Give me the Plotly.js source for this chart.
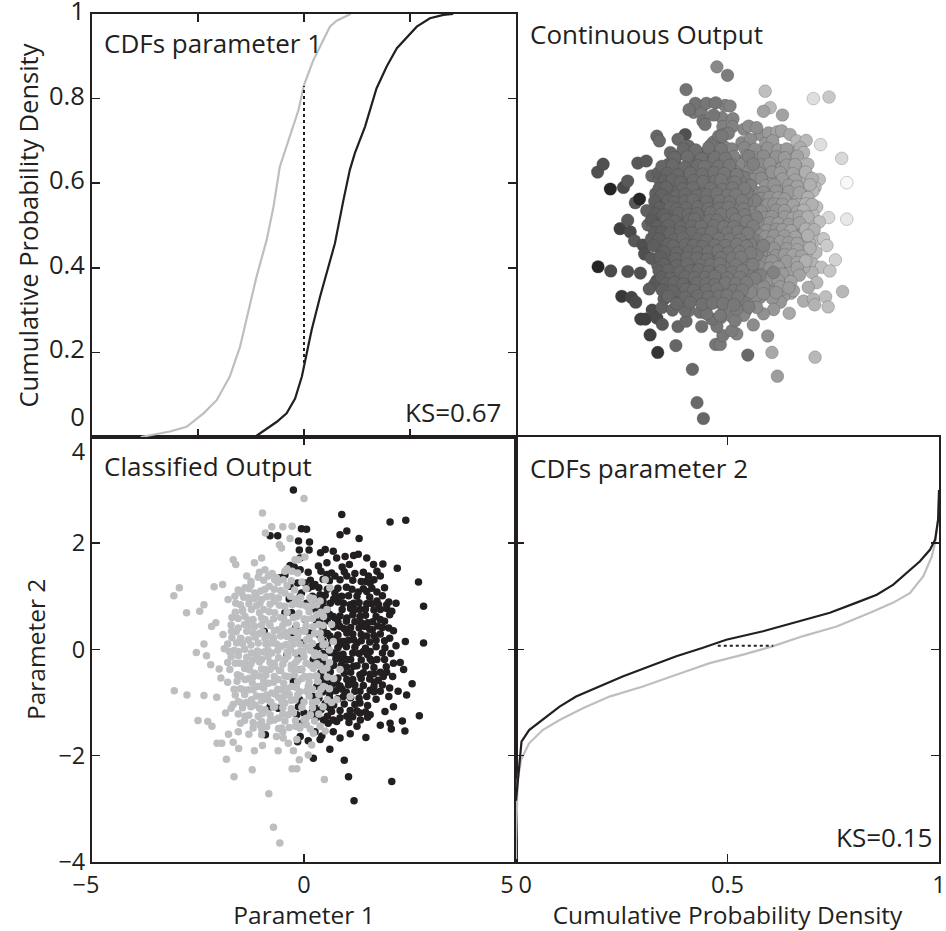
<!DOCTYPE html>
<html>
<head>
<meta charset="utf-8">
<script src="https://cdn.plot.ly/plotly-3.0.1.min.js"></script>
<style>html,body{margin:0;padding:0;background:#fff;}#chart{width:946px;height:931px;}</style>
</head>
<body>
<div id="chart"></div>
<script>
// ---------- DATA ----------
// Class 0 (grey) samples, outer / readable points: parameter 1, parameter 2, continuous output
const grayP1 = [-3.07,-2.94,-2.77,-2.46,-2.36,-2.54,-2.36,-2.30,-2.20,-2.18,
 -2.08,-2.12,-1.92,-2.00,-1.96,-1.88,-1.76,-1.71,-1.79,-1.61,
 -1.67,-1.61,-1.55,-3.06,-2.76,-2.36,-2.06,-2.50,-2.27,-2.17,
 -2.05,-1.94,-1.78,-1.67,-1.54,-1.83,-1.65,-1.22,-1.17,-0.98,
 -0.83,-0.72,-0.57,-0.28,-0.17,-0.11,0.10,0.48,-0.25,-0.37,
 -0.61,-1.20,-1.50,-1.39,-1.67,-1.72,-1.57,-1.51,-1.59,-1.39,
 -0.98,0.00,-0.76,-0.91,-0.50,-0.28,-0.33,-0.58,-1.00,-0.92,
 -1.17,-1.35,-1.08,-1.39,-1.25,-1.13,-0.65,-0.82,-0.28,-0.21,
 0.02,0.50,0.61,0.17,0.38,-0.06,0.54,0.65,0.06,-0.53,
 -0.13,-0.40,-0.49,-0.45,-0.76,-1.00,-1.31,-1.47,-1.16,-0.92,
 -0.69,-0.84,-1.63,-1.91,-1.49,-1.55,-1.39,-1.24,-1.04,-1.31,
 -1.39,-1.47,-1.16,-0.92,-0.69,-0.45,-1.08,-0.84,-0.61,-0.37,
 -0.17,-1.24,-1.00,-0.76,-0.53,-0.29,-0.13,-1.16,-0.92,-0.69,
 -0.45,-0.21,-1.08,-0.84,-0.61,-0.37,-0.17,-1.24,-1.00,-0.76,
 -0.53,-0.29,-0.92,-0.69,-0.45,-0.21,-1.08,-0.61,-0.37,-1.31,
 -1.43,-1.30,-1.05,-0.80,-0.55,-0.30,-0.10,-1.20,-0.95,-0.65,
 -0.40,-0.15,-1.30,-1.05,-0.80,-0.55,-0.30,-0.05,-1.15,-0.85,
 -0.60,-0.35,-0.10,-0.95,-0.70,-0.40,-0.20,-0.55,-1.45,-1.70,
 -1.80,-1.65,-1.85,-1.55,-1.30,-1.00,-0.80,-0.50,-0.20,0.05,
 0.20,0.10,0.30,0.15,0.35,0.05,0.25,0.45,0.30,-0.05,
 0.40,0.55,0.70,0.60,0.50,0.06,0.30,0.46,0.22,0.06,
 -0.02,0.26,0.54,0.69,0.38,0.14,0.46,0.06,0.77,1.09,
 0.85,-0.65,-1.00,-1.04,-0.53,-0.17,-0.49,0.18,0.06,0.38,
 0.50,0.22,-0.09,0.14];
const grayP2 = [1.01,1.16,0.69,0.72,0.84,-0.06,0.10,-0.12,-0.29,0.43,
 0.50,1.18,1.22,-0.37,-0.54,0.01,-0.04,0.34,0.94,0.87,
 1.69,1.60,0.40,-0.78,-0.86,-0.87,-0.90,-1.34,-1.36,-1.45,
 -1.77,-1.77,-1.60,-1.75,-1.87,-2.07,-2.40,-2.27,-1.91,-1.81,
 -2.72,-3.35,-3.65,-2.25,-2.25,-2.08,-1.99,-2.45,-1.91,-1.77,
 -1.91,-1.38,-1.39,-1.26,-1.04,-1.11,-0.48,-0.26,0.12,-0.26,
 2.57,2.84,2.31,2.19,2.31,2.32,2.09,1.97,1.72,1.50,
 1.63,1.38,1.36,1.16,1.21,1.00,1.35,1.19,1.47,1.69,
 1.74,1.31,1.16,0.94,0.91,0.84,0.75,0.47,0.56,1.91,
 1.69,1.52,1.31,1.06,1.00,0.94,0.97,1.06,1.06,1.13,
 1.31,1.38,1.00,0.28,0.21,-0.04,0.62,0.75,0.87,-0.76,
 -0.57,-1.01,0.43,0.56,0.69,0.81,0.12,0.25,0.37,0.50,
 0.62,-0.07,-0.19,-0.07,0.06,0.18,0.31,-0.45,-0.38,-0.32,
 -0.19,-0.07,-0.70,-0.64,-0.57,-0.51,-0.38,-0.95,-0.89,-0.82,
 -0.76,-0.70,-1.14,-1.08,-1.01,-0.95,-1.26,-1.30,-1.23,0.18,
 -0.76,0.55,0.30,0.45,0.25,0.35,0.10,-0.20,-0.05,0.10,
 -0.05,-0.20,-0.55,-0.50,-0.25,-0.40,-0.30,-0.55,-1.05,-0.95,
 -0.90,-0.85,-0.80,0.75,0.90,1.20,0.95,0.60,0.75,0.60,
 -0.25,-0.75,-1.20,-1.55,-1.60,-1.50,-1.35,-1.55,-1.45,-1.30,
 -1.00,-0.70,-0.50,-0.30,-0.10,0.05,0.30,0.45,0.65,0.35,
 -0.75,-0.95,-0.55,-0.25,0.10,0.81,0.84,0.62,0.43,0.18,
 -0.07,-0.07,-0.35,0.15,-0.32,-0.51,-0.70,-0.79,-0.95,-0.89,
 -0.38,-1.64,-1.61,-1.42,-1.48,-1.70,-1.67,-1.80,-1.42,-1.45,
 -1.54,-1.58,-1.45,0.97];
const grayOut = [.22,.22,.03,.20,.25,.15,.25,.20,.25,.25,
 .04,.25,.25,.22,.22,.30,.30,.30,.30,.30,
 .30,.32,.30,.03,.20,.22,.22,.12,.18,.20,
 .15,.15,.20,.20,.25,.15,.10,.30,.30,.32,
 .32,.32,.30,.40,.42,.42,.45,.32,.40,.38,
 .36,.30,.28,.30,.25,.25,.30,.30,.30,.32,
 .38,.45,.38,.38,.40,.40,.40,.38,.22,.32,
 .32,.30,.32,.30,.30,.32,.36,.35,.40,.40,
 .45,.48,.48,.45,.46,.42,.48,.48,.44,.38,
 .42,.40,.38,.38,.36,.35,.32,.30,.32,.34,
 .36,.35,.28,.28,.30,.30,.32,.32,.34,.30,
 .30,.28,.34,.35,.37,.38,.34,.36,.38,.40,
 .42,.33,.35,.37,.38,.40,.42,.34,.36,.37,
 .39,.41,.34,.36,.38,.40,.42,.32,.34,.36,
 .38,.40,.35,.36,.38,.40,.33,.36,.38,.32,
 .30,.33,.34,.36,.38,.40,.42,.33,.35,.37,
 .39,.41,.32,.34,.36,.38,.40,.42,.33,.35,
 .37,.39,.41,.35,.37,.39,.41,.38,.31,.29,
 .28,.29,.26,.28,.30,.33,.35,.37,.40,.43,
 .44,.43,.45,.44,.45,.43,.45,.46,.45,.43,
 .46,.47,.48,.47,.47,.44,.45,.46,.45,.43,
 .42,.44,.47,.48,.46,.44,.46,.43,.48,.50,
 .49,.36,.33,.33,.37,.42,.38,.45,.45,.46,
 .46,.45,.42,.45];

// Class 0 (grey) samples in the dense core of the cloud
const grayCoreP1 = [-1.05,-0.75,-0.45,-0.15,
 -1.25,-0.95,-0.62,-0.30,-0.05,
 -1.55,-1.30,-1.02,-0.70,-0.55,-0.22,0.05,
 -1.42,-1.18,-0.88,-0.60,-0.32,-0.08,0.22,
 -1.50,-1.30,-1.12,-0.80,-0.58,-0.28,-0.15,0.18,
 -1.62,-1.45,-1.05,-0.82,-0.40,-0.12,0.12,0.40,
 -1.55,-1.20,-1.00,-0.72,-0.48,-0.25,0.00,0.20,
 -1.72,-1.40,-1.25,-1.00,-0.82,-0.50,-0.18,0.05,0.35,
 -1.60,-1.35,-1.20,-0.98,-0.70,-0.45,-0.20,0.02,0.38,
 -1.70,-1.50,-1.15,-0.92,-0.72,-0.40,-0.15,0.12,0.40,
 -1.80,-1.45,-1.25,-0.90,-0.78,-0.42,-0.25,0.20,0.45,
 -1.65,-1.40,-1.10,-0.85,-0.62,-0.32,-0.08,0.15,0.60,
 -1.72,-1.55,-1.35,-1.10,-0.85,-0.60,-0.38,0.00,0.25,0.48,
 -1.62,-1.25,-1.05,-0.70,-0.50,-0.20,0.05,0.30,
 -1.75,-1.40,-1.28,-1.00,-0.80,-0.58,-0.30,-0.05,0.22,0.45,
 -1.50,-1.20,-0.90,-0.70,-0.45,-0.22,0.02,0.28,0.55,
 -1.80,-1.58,-1.22,-0.95,-0.72,-0.48,-0.15,0.12,0.32,
 -1.50,-1.20,-0.95,-0.62,-0.40,-0.18,0.20,0.60,
 -1.62,-1.40,-1.12,-0.88,-0.68,-0.45,-0.15,0.12,0.35,
 -1.55,-1.35,-1.00,-0.78,-0.52,-0.30,0.00,0.30,0.65,
 -1.45,-1.25,-1.05,-0.72,-0.50,-0.30,-0.05,0.20,0.45,
 -1.55,-1.30,-0.98,-0.80,-0.50,-0.25,0.15,0.35,
 -1.40,-1.00,-0.70,-0.45,-0.20,0.00,0.25,
 -1.20,-0.88,-0.60,-0.35,-0.10,0.15];
const grayCoreP2 = [1.45,1.43,1.47,1.44,
 1.28,1.30,1.26,1.29,1.27,
 1.12,1.14,1.10,1.13,1.11,1.12,1.14,
 0.98,0.96,0.99,0.97,1.00,0.98,0.96,
 0.84,0.86,0.82,0.85,0.83,0.84,0.86,0.82,
 0.70,0.72,0.69,0.71,0.70,0.68,0.71,0.70,
 0.58,0.56,0.59,0.57,0.58,0.60,0.57,0.58,
 0.46,0.47,0.44,0.46,0.48,0.45,0.46,0.44,0.47,
 0.33,0.34,0.31,0.33,0.35,0.32,0.33,0.34,0.31,
 0.22,0.20,0.23,0.21,0.22,0.24,0.21,0.22,0.20,
 0.10,0.11,0.08,0.10,0.12,0.09,0.10,0.11,0.08,
 -0.02,0.00,-0.03,-0.01,-0.02,0.00,-0.03,-0.02,-0.01,
 -0.14,-0.12,-0.15,-0.13,-0.14,-0.16,-0.13,-0.14,-0.12,-0.15,
 -0.26,-0.27,-0.24,-0.26,-0.28,-0.25,-0.26,-0.27,
 -0.38,-0.36,-0.39,-0.37,-0.38,-0.40,-0.37,-0.38,-0.36,-0.39,
 -0.50,-0.52,-0.49,-0.51,-0.50,-0.48,-0.51,-0.50,-0.52,
 -0.62,-0.60,-0.63,-0.61,-0.62,-0.64,-0.61,-0.62,-0.60,
 -0.74,-0.76,-0.73,-0.75,-0.74,-0.72,-0.75,-0.74,
 -0.86,-0.85,-0.88,-0.86,-0.84,-0.87,-0.86,-0.88,-0.85,
 -0.98,-1.00,-0.97,-0.99,-0.98,-0.96,-0.99,-0.98,-1.00,
 -1.10,-1.08,-1.11,-1.09,-1.10,-1.12,-1.09,-1.10,-1.08,
 -1.22,-1.24,-1.21,-1.23,-1.22,-1.20,-1.23,-1.22,
 -1.34,-1.36,-1.33,-1.35,-1.34,-1.32,-1.35,
 -1.48,-1.46,-1.49,-1.47,-1.48,-1.50];
const grayCoreOut = [.32,.35,.38,.41,
 .32,.35,.36,.38,.41,
 .30,.32,.33,.35,.38,.39,.42,
 .30,.32,.35,.36,.38,.41,.44,
 .29,.31,.32,.35,.37,.38,.41,.43,
 .28,.30,.33,.35,.38,.41,.42,.45,
 .29,.32,.33,.35,.37,.39,.41,.43,
 .27,.30,.31,.33,.35,.37,.40,.42,.44,
 .28,.31,.32,.34,.35,.37,.39,.42,.45,
 .27,.29,.32,.34,.35,.38,.40,.42,.45,
 .26,.30,.31,.34,.35,.38,.39,.43,.45,
 .28,.30,.32,.34,.36,.38,.41,.42,.47,
 .27,.28,.30,.32,.34,.36,.38,.41,.43,.46,
 .28,.31,.33,.35,.37,.40,.42,.44,
 .27,.30,.31,.33,.35,.36,.38,.41,.43,.45,
 .29,.31,.34,.35,.37,.39,.41,.44,.46,
 .26,.28,.31,.34,.35,.37,.40,.42,.44,
 .29,.31,.34,.36,.38,.40,.43,.47,
 .28,.30,.32,.34,.35,.37,.40,.42,.44,
 .28,.30,.33,.35,.37,.38,.41,.44,.47,
 .29,.31,.32,.35,.37,.38,.41,.43,.45,
 .28,.30,.33,.35,.37,.39,.42,.44,
 .30,.33,.35,.37,.39,.41,.43,
 .31,.34,.36,.38,.40,.42];

// Class 1 (black) samples, outer / readable points
const blackP1 = [-0.25,0.89,2.03,2.40,-0.06,0.06,1.01,0.85,1.30,-0.80,
 -0.62,-0.13,0.13,-0.11,0.12,0.39,0.50,0.77,0.97,1.17,
 1.28,1.48,1.64,1.86,2.20,0.34,0.54,0.90,1.07,-0.23,
 -0.09,1.01,0.73,1.52,1.72,1.80,1.46,1.56,2.70,0.02,
 0.20,0.26,0.38,0.73,0.89,1.13,1.28,1.48,1.72,2.82,
 2.17,1.95,1.76,2.07,1.80,1.32,1.17,0.93,1.50,1.61,
 2.11,2.02,2.39,2.82,2.17,1.91,1.56,1.72,2.11,2.27,
 1.94,2.35,2.55,2.09,1.56,1.87,2.02,2.22,2.42,2.00,
 1.80,1.56,1.32,1.48,1.32,2.11,1.91,2.72,1.50,1.33,
 1.09,1.01,0.77,1.25,1.06,1.80,2.03,2.06,2.32,2.38,
 1.46,1.09,0.85,0.61,0.95,1.05,2.07,1.18,0.22,-0.15,
 0.10,-0.91,-0.06,-0.13,0.00,0.18,0.34,0.46,0.57,0.26,
 0.42,1.80,2.02,1.62,1.66,1.80,1.32,1.56,1.40,1.25,
 1.48,1.74,1.44,1.32,1.20,1.01,0.85,1.01,1.17,0.85,
 0.69,1.01,1.17,0.88,1.01,1.20,0.77,0.61,0.93,1.32,
 1.56,0.46,0.54,0.69,0.38,0.61,0.38,0.22,0.38,0.22,
 0.69,1.48,1.72,1.09,0.14,0.02,-0.45,-0.94,-0.06,-0.13,
 -0.06,-0.80,-0.61,-0.17,-0.29,-0.29,-0.33,-0.09,-0.57,-0.33,
 -0.06,0.69,0.54,0.06,-0.09,0.69,0.38,-0.09,0.30,0.55,
 0.75,0.65,0.45,0.80,0.50,0.30,0.90,0.75,0.95,0.40,
 0.70,0.60];
const blackP2 = [3.00,2.54,2.40,2.43,2.27,2.26,2.23,2.16,2.09,2.14,
 2.14,2.04,2.02,1.87,1.87,1.82,1.88,1.72,1.75,1.77,
 1.79,1.72,1.60,1.61,1.53,1.57,1.63,1.55,1.60,1.55,
 1.50,1.38,1.38,1.38,1.47,1.38,1.28,1.25,1.27,1.25,
 1.19,1.22,1.03,1.06,1.00,1.13,1.08,1.09,1.08,0.81,
 0.87,0.84,0.84,0.72,0.56,0.75,0.87,0.87,0.50,0.37,
 0.35,0.21,0.15,0.12,0.07,0.03,-0.04,-0.19,-0.26,-0.25,
 -0.33,-0.38,-0.65,-0.51,-0.47,-0.51,-0.73,-0.79,-0.86,-0.89,
 -0.79,-0.77,-0.79,-0.89,-1.01,-1.08,-1.17,-1.25,-1.28,-1.33,
 -1.15,-1.26,-1.36,-1.45,-1.38,-1.43,-1.39,-1.50,-1.35,-1.54,
 -1.66,-1.59,-1.67,-1.88,-2.09,-2.40,-2.49,-2.85,-2.05,-1.74,
 -1.72,-1.61,-1.39,-1.08,-1.20,-1.23,-1.15,-1.33,-1.39,-1.55,
 -1.63,0.75,0.65,0.52,-0.62,-0.43,-0.48,-0.18,-0.04,0.12,
 0.25,0.44,0.43,0.62,0.75,0.59,0.43,0.31,0.18,0.09,
 -0.07,-0.19,-0.32,-0.30,-0.57,-0.67,-0.64,-0.82,-0.89,-1.20,
 -1.23,-1.08,0.75,0.62,0.50,0.25,0.06,-0.19,-0.51,-0.89,
 -1.33,0.86,0.91,0.84,0.31,0.56,0.69,0.34,0.12,-0.16,
 -0.38,-1.08,-1.11,-1.23,0.69,0.31,1.58,1.72,1.35,1.19,
 1.06,1.85,1.41,0.87,1.00,-1.55,-1.70,-1.64,0.95,0.30,
 0.20,-0.30,-0.25,-0.10,-0.60,-0.70,-0.75,0.55,0.15,0.80,
 0.95,-1.10];
const blackOut = [.55,.82,.92,.85,.50,.50,.80,.72,.72,.42,
 .42,.48,.50,.48,.50,.55,.60,.62,.68,.72,
 .72,.74,.80,.80,.92,.55,.58,.65,.68,.46,
 .48,.66,.62,.72,.76,.78,.72,.74,.90,.50,
 .52,.52,.55,.60,.62,.66,.68,.70,.74,1.0,
 .82,.78,.76,.80,.76,.68,.66,.62,.72,.74,
 .82,.80,.90,.95,.82,.78,.72,.74,.80,.84,
 .78,.86,.88,.80,.72,.76,.78,.82,.84,.78,
 .76,.72,.68,.70,.68,.80,.76,.80,.72,.68,
 .64,.62,.60,.66,.64,.76,.78,.78,.82,.82,
 .74,.66,.62,.58,.60,.74,.80,.70,.50,.45,
 .48,.40,.46,.46,.47,.50,.52,.54,.56,.50,
 .52,.76,.80,.74,.74,.76,.68,.72,.70,.68,
 .72,.76,.70,.68,.66,.64,.60,.62,.66,.60,
 .58,.62,.66,.60,.62,.66,.60,.58,.62,.68,
 .72,.55,.56,.58,.55,.56,.54,.52,.54,.52,
 .58,.72,.75,.65,.50,.48,.42,.40,.46,.45,
 .46,.42,.43,.45,.44,.44,.44,.46,.42,.44,
 .46,.60,.56,.48,.47,.58,.54,.45,.52,.56,
 .58,.57,.55,.59,.55,.53,.61,.59,.61,.55,
 .59,.57];

// Class 1 (black) samples in the dense core of the cloud
const blackCoreP1 = [0.10,0.40,0.65,0.95,1.20,1.40,
 0.15,0.45,0.60,0.85,1.15,1.35,1.65,
 0.10,0.35,0.55,0.80,1.00,1.40,1.60,1.90,
 0.20,0.50,0.75,1.05,1.25,1.55,1.85,
 0.15,0.45,0.62,0.80,1.30,1.60,2.00,
 0.25,0.50,0.90,1.10,1.45,1.65,1.95,
 0.40,0.60,0.85,1.15,1.45,1.70,
 0.30,0.55,0.80,1.00,1.20,1.35,1.90,
 0.45,0.70,0.95,1.10,1.30,1.55,1.85,2.00,
 0.35,0.50,0.80,1.15,1.35,1.65,1.80,
 0.45,0.65,0.90,1.05,1.35,1.55,1.70,1.90,
 0.30,0.55,0.80,1.00,1.20,1.45,1.70,
 0.45,0.60,0.92,1.15,1.30,1.50,1.85,2.05,
 0.35,0.75,0.90,1.10,1.35,1.60,1.90,
 0.50,0.70,1.00,1.25,1.45,1.65,
 0.40,0.62,0.95,1.10,1.40,1.65,1.95,
 0.55,0.80,1.15,1.35,1.55,1.75,
 0.35,0.65,0.85,1.05,1.40,1.65,1.85,
 0.45,0.75,1.00,1.20,1.65,
 0.35,0.60,0.80,1.10,1.30,1.70,
 0.25,0.50,0.70,0.95,1.20,1.50,
 0.20,0.40,0.65,0.85,1.25,1.45,
 0.30,0.55,0.85,1.15,
 -0.35,-0.20,-0.40,-0.25,-0.10,-0.45,-0.15];
const blackCoreP2 = [1.45,1.47,1.44,1.46,1.43,1.45,
 1.30,1.32,1.29,1.31,1.30,1.28,1.31,
 1.15,1.16,1.13,1.15,1.17,1.14,1.15,1.16,
 1.00,1.02,0.99,1.01,1.00,0.98,1.01,
 0.88,0.90,0.87,0.89,0.88,0.86,0.89,
 0.76,0.78,0.75,0.77,0.76,0.74,0.77,
 0.64,0.66,0.63,0.65,0.64,0.62,
 0.52,0.54,0.51,0.53,0.52,0.50,0.53,
 0.40,0.42,0.39,0.41,0.40,0.38,0.41,0.40,
 0.28,0.30,0.27,0.29,0.28,0.26,0.29,
 0.16,0.18,0.15,0.17,0.16,0.14,0.17,0.16,
 0.04,0.06,0.03,0.05,0.04,0.02,0.05,
 -0.08,-0.06,-0.09,-0.07,-0.08,-0.10,-0.07,-0.08,
 -0.20,-0.18,-0.21,-0.19,-0.20,-0.22,-0.19,
 -0.32,-0.30,-0.33,-0.31,-0.32,-0.34,
 -0.44,-0.42,-0.45,-0.43,-0.44,-0.46,-0.43,
 -0.56,-0.54,-0.57,-0.55,-0.56,-0.58,
 -0.68,-0.66,-0.69,-0.67,-0.68,-0.70,-0.67,
 -0.80,-0.78,-0.81,-0.79,-0.80,
 -0.92,-0.90,-0.93,-0.91,-0.92,-0.94,
 -1.04,-1.02,-1.05,-1.03,-1.04,-1.06,
 -1.16,-1.14,-1.17,-1.15,-1.16,-1.18,
 -1.28,-1.26,-1.29,-1.27,
 0.95,0.40,-0.10,-0.60,-0.95,1.40,1.25];
const blackCoreOut = [.50,.54,.58,.63,.68,.68,
 .50,.54,.58,.58,.63,.68,.72,
 .50,.54,.54,.58,.63,.68,.72,.77,
 .50,.54,.58,.63,.68,.72,.77,
 .50,.54,.58,.58,.68,.72,.77,
 .50,.54,.63,.63,.68,.72,.77,
 .54,.58,.58,.63,.68,.72,
 .54,.54,.58,.63,.68,.68,.77,
 .54,.58,.63,.63,.68,.72,.77,.77,
 .54,.54,.58,.63,.68,.72,.77,
 .54,.58,.63,.63,.68,.72,.72,.77,
 .54,.54,.58,.63,.68,.68,.72,
 .54,.58,.63,.63,.68,.72,.77,.77,
 .54,.58,.63,.63,.68,.72,.77,
 .54,.58,.63,.68,.68,.72,
 .54,.58,.63,.63,.68,.72,.77,
 .54,.58,.63,.68,.72,.72,
 .54,.58,.58,.63,.68,.72,.77,
 .54,.58,.63,.68,.72,
 .54,.58,.58,.63,.68,.72,
 .50,.54,.58,.63,.68,.72,
 .50,.54,.58,.58,.68,.68,
 .54,.54,.58,.63,
 .44,.46,.44,.45,.46,.43,.46];

// Empirical CDFs of parameter 1 (x = parameter value, p = cumulative probability)
const cdf1GrayX  = [-3.85,-3.16,-2.77,-2.37,-2.06,-1.75,-1.51,-1.31,-1.12,-0.88,-0.72,-0.57,-0.33,-0.13,0.00,0.22,0.38,0.61,0.77,1.05,1.10];
const cdf1GrayP  = [0.0,0.013,0.024,0.056,0.087,0.143,0.213,0.300,0.379,0.466,0.544,0.639,0.710,0.773,0.832,0.891,0.923,0.970,0.984,0.998,1.0];
const cdf1BlackX = [-1.16,-0.88,-0.64,-0.41,-0.21,-0.05,0.06,0.18,0.38,0.57,0.73,0.93,1.08,1.20,1.44,1.71,1.95,2.19,2.42,2.66,2.97,3.29,3.52];
const cdf1BlackP = [0.0,0.020,0.036,0.056,0.091,0.143,0.198,0.253,0.332,0.403,0.458,0.560,0.631,0.671,0.734,0.824,0.876,0.919,0.943,0.970,0.990,0.998,1.0];
const ks1X = [0, 0];
const ks1P = [0.175, 0.83];

// Empirical CDFs of parameter 2 (p = cumulative probability, y = parameter value)
const cdf2BlackP = [0.0,0.008,0.013,0.031,0.063,0.103,0.142,0.189,0.252,0.316,0.379,0.442,0.497,0.584,0.671,0.742,0.805,0.853,0.892,0.931,0.955,0.979,0.991,0.998,1.0];
const cdf2BlackY = [-2.85,-2.14,-1.74,-1.52,-1.33,-1.08,-0.89,-0.73,-0.51,-0.32,-0.13,0.03,0.18,0.34,0.53,0.69,0.88,1.03,1.22,1.50,1.66,1.88,2.07,2.45,3.00];
const cdf2GrayP  = [0.0,0.0,0.004,0.012,0.031,0.063,0.103,0.158,0.221,0.300,0.379,0.458,0.537,0.608,0.679,0.758,0.837,0.892,0.931,0.963,0.983,0.991,0.998,1.0];
const cdf2GrayY  = [-3.95,-3.65,-2.46,-2.08,-1.77,-1.52,-1.33,-1.11,-0.89,-0.70,-0.48,-0.26,-0.10,0.06,0.25,0.43,0.69,0.88,1.06,1.38,1.75,2.01,2.45,2.84];
const ks2P = [0.477, 0.608];
const ks2Y = [0.07, 0.07];

// Tick labels
const xTickVals = [-5, 0, 5];
const xTickText = ['\u22125\u00a0\u00a0', '0', '5\u00a0\u00a0\u00a0'];
const yTickVals = [-4, -2, 0, 2, 4];
const yTickText = ['\u22124', '\u22122', '0', '2', '\u00a0<br>4'];
const cdfTickVals = [0, 0.2, 0.4, 0.6, 0.8, 1];
const cdfTickText = ['0<br>\u00a0', '0.2', '0.4', '0.6', '0.8', '1'];
const pTickVals = [0, 0.5, 1];
const pTickText = ['\u00a0\u00a0\u00a00', '0.5', '1'];

// ---------- STYLE ----------
const INK = '#231f20';
const GREY = '#bcbec0';
const FONT = '"Open Sans", "Liberation Sans", sans-serif';
const W = 946, H = 931;
const px = v => v / W;
const py = v => (H - v) / H;
const xL = [px(92), px(516)], xR = [px(516), px(939)];
const yT = [py(437), py(14)], yB = [py(861.7), py(437)];

const axisBase = {
  showgrid: false, zeroline: false, showline: true, linecolor: INK, linewidth: 2,
  mirror: 'ticks', ticks: 'inside', ticklen: 8, tickwidth: 1.5, tickcolor: INK,
  ticklabeloverflow: 'allow',
  tickfont: {family: FONT, size: 23.5, color: INK}, fixedrange: true
};
const hidden = {showgrid: false, zeroline: false, showline: false, ticks: '', showticklabels: false, fixedrange: true};

const allGrayP1 = grayP1.concat(grayCoreP1), allGrayP2 = grayP2.concat(grayCoreP2), allGrayOut = grayOut.concat(grayCoreOut);
const allBlackP1 = blackP1.concat(blackCoreP1), allBlackP2 = blackP2.concat(blackCoreP2), allBlackOut = blackOut.concat(blackCoreOut);

const traces = [
  // Bottom-left: classified output
  {x: allBlackP1, y: allBlackP2, xaxis: 'x', yaxis: 'y', type: 'scatter', mode: 'markers',
   marker: {size: 7.5, color: INK}, hoverinfo: 'skip'},
  {x: allGrayP1, y: allGrayP2, xaxis: 'x', yaxis: 'y', type: 'scatter', mode: 'markers',
   marker: {size: 7.5, color: GREY}, hoverinfo: 'skip'},
  // Top-right: continuous output
  {x: allBlackP1.concat(allGrayP1), y: allBlackP2.concat(allGrayP2), xaxis: 'x3', yaxis: 'y3',
   type: 'scatter', mode: 'markers',
   marker: {size: 12.7, color: allBlackOut.concat(allGrayOut), cmin: 0, cmax: 1,
            colorscale: [[0, '#1e1e1e'], [0.2, '#4a4a4a'], [0.3, '#666666'], [0.4, '#767676'],
                         [0.5, '#828282'], [0.6, '#8e8e8e'], [0.7, '#9d9d9d'], [0.8, '#b8b8b8'],
                         [0.9, '#d8d8d8'], [1, '#f8f8f8']],
            showscale: false, line: {width: 0.7, color: 'rgba(60,60,60,0.35)'}}, hoverinfo: 'skip'},
  // Top-left: CDFs parameter 1
  {x: cdf1GrayX, y: cdf1GrayP, xaxis: 'x2', yaxis: 'y2', type: 'scatter', mode: 'lines',
   line: {color: GREY, width: 2.2}, hoverinfo: 'skip'},
  {x: cdf1BlackX, y: cdf1BlackP, xaxis: 'x2', yaxis: 'y2', type: 'scatter', mode: 'lines',
   line: {color: INK, width: 2.2}, hoverinfo: 'skip'},
  {x: ks1X, y: ks1P, xaxis: 'x2', yaxis: 'y2', type: 'scatter', mode: 'lines',
   line: {color: INK, width: 2, dash: 'dot'}, hoverinfo: 'skip'},
  // Bottom-right: CDFs parameter 2
  {x: cdf2GrayP, y: cdf2GrayY, xaxis: 'x4', yaxis: 'y4', type: 'scatter', mode: 'lines',
   line: {color: GREY, width: 2.2}, hoverinfo: 'skip'},
  {x: cdf2BlackP, y: cdf2BlackY, xaxis: 'x4', yaxis: 'y4', type: 'scatter', mode: 'lines',
   line: {color: INK, width: 2.2}, hoverinfo: 'skip'},
  {x: ks2P, y: ks2Y, xaxis: 'x4', yaxis: 'y4', type: 'scatter', mode: 'lines',
   line: {color: INK, width: 2, dash: 'dot'}, hoverinfo: 'skip'}
];

const titleFont = {family: FONT, size: 24.5, color: INK};
const annFont = {family: FONT, size: 26, color: INK};
const layout = {
  width: W, height: H, showlegend: false,
  paper_bgcolor: '#fff', plot_bgcolor: 'rgba(0,0,0,0)',
  margin: {l: 0, r: 0, t: 0, b: 0, pad: 0},
  font: {family: FONT, color: INK},
  xaxis: Object.assign({}, axisBase, {domain: xL, anchor: 'y', range: [-5, 5],
    tickmode: 'array', tickvals: xTickVals, ticktext: xTickText, ticklabelstandoff: 1,
    title: {text: 'Parameter 1', font: titleFont, standoff: 5}}),
  yaxis: Object.assign({}, axisBase, {domain: yB, anchor: 'x', range: [-4, 4],
    tickmode: 'array', tickvals: yTickVals, ticktext: yTickText,
    title: {text: 'Parameter 2', font: titleFont, standoff: 6}}),
  xaxis2: Object.assign({}, axisBase, {domain: xL, anchor: 'y2', range: [-5, 5],
    tickmode: 'array', tickvals: [-2.5, 0, 2.5], showticklabels: false}),
  yaxis2: Object.assign({}, axisBase, {domain: yT, anchor: 'x2', range: [0, 1],
    tickmode: 'array', tickvals: cdfTickVals, ticktext: cdfTickText, ticklabelshift: -3,
    tickfont: {family: FONT, size: 25.5, color: INK},
    title: {text: 'Cumulative Probability Density', font: {family: FONT, size: 25.5, color: INK}, standoff: 3}}),
  xaxis3: Object.assign({}, hidden, {domain: xR, anchor: 'y3', range: [-5, 5]}),
  yaxis3: Object.assign({}, hidden, {domain: yT, anchor: 'x3', range: [-4, 4]}),
  xaxis4: Object.assign({}, axisBase, {domain: xR, anchor: 'y4', range: [0, 1],
    tickmode: 'array', tickvals: pTickVals, ticktext: pTickText, ticklabelstandoff: 1,
    title: {text: 'Cumulative Probability Density', font: titleFont, standoff: 5}}),
  yaxis4: Object.assign({}, axisBase, {domain: yB, anchor: 'x4', range: [-4, 4],
    tickmode: 'array', tickvals: [-2, 0, 2], showticklabels: false}),
  annotations: [
    {text: 'CDFs parameter 1', xref: 'paper', yref: 'paper', x: px(102), y: py(43), xanchor: 'left', yanchor: 'middle', showarrow: false, font: annFont},
    {text: 'Continuous Output', xref: 'paper', yref: 'paper', x: px(528), y: py(34), xanchor: 'left', yanchor: 'middle', showarrow: false, font: annFont},
    {text: 'Classified Output', xref: 'paper', yref: 'paper', x: px(102), y: py(466), xanchor: 'left', yanchor: 'middle', showarrow: false, font: annFont},
    {text: 'CDFs parameter 2', xref: 'paper', yref: 'paper', x: px(528), y: py(468), xanchor: 'left', yanchor: 'middle', showarrow: false, font: annFont},
    {text: 'KS=0.67', xref: 'paper', yref: 'paper', x: px(503), y: py(412), xanchor: 'right', yanchor: 'middle', showarrow: false, font: annFont},
    {text: 'KS=0.15', xref: 'paper', yref: 'paper', x: px(934), y: py(837), xanchor: 'right', yanchor: 'middle', showarrow: false, font: annFont}
  ]
};

Plotly.newPlot('chart', traces, layout, {staticPlot: true, displayModeBar: false});
</script>
</body>
</html>
